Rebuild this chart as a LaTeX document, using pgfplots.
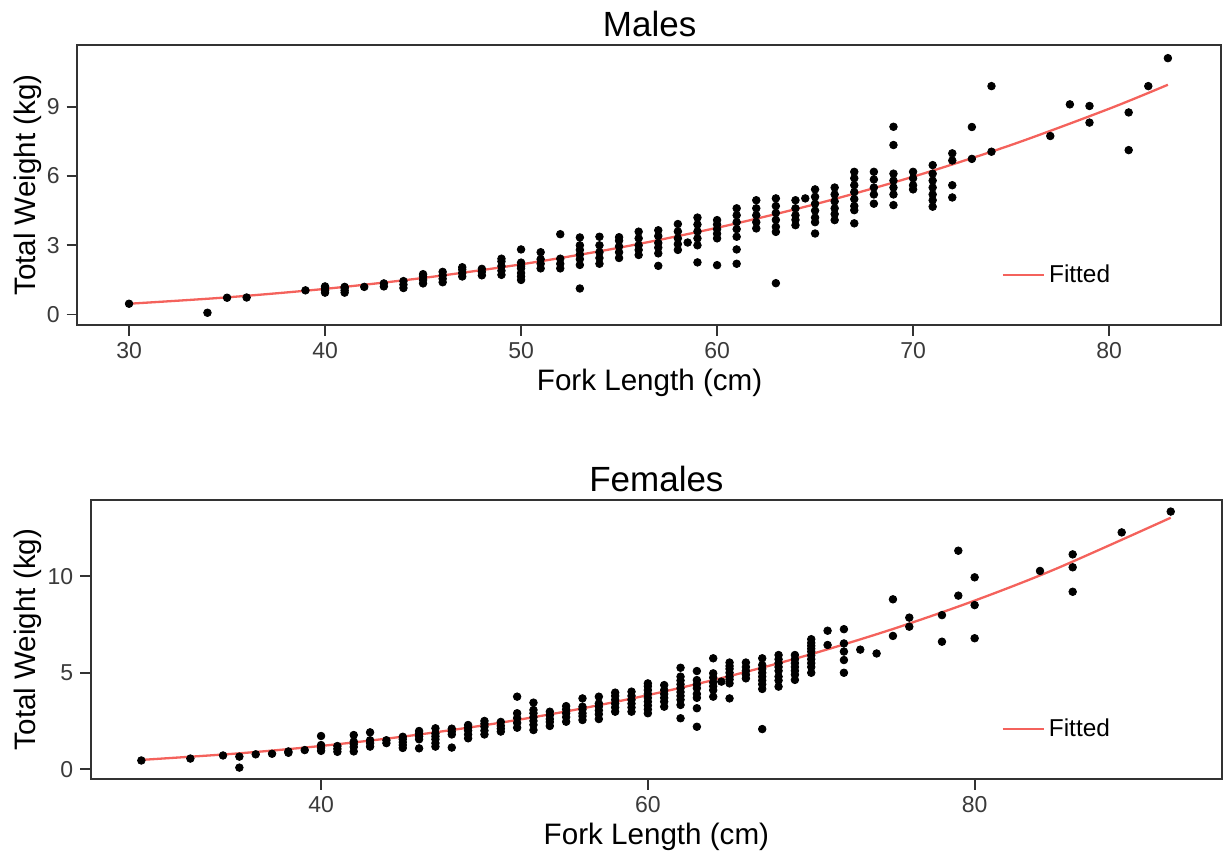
\documentclass[border=0pt]{standalone}
\usepackage{fontspec}
\setmainfont{Liberation Sans}
\usepackage{pgfplots}
\pgfplotsset{compat=1.18}
\definecolor{fitred}{HTML}{F4625C}
\definecolor{axgray}{HTML}{333333}
\definecolor{ticktxt}{HTML}{3A3A3A}
\pgfplotsset{
  panel/.style={
    scale only axis,
    anchor=south west,
    axis line style={axgray, line width=0.9bp},
    tick align=outside,
    major tick length=5.35bp,
    tick style={axgray, line width=0.9bp},
    xtick pos=bottom, ytick pos=left,
    minor tick num=0,
    /pgf/number format/assume math mode=true,
    ticklabel style={font=\fontsize{11.5bp}{13bp}\selectfont, text=ticktxt},
    legend style={draw=none, fill=none, inner sep=0pt, anchor=west,
      font=\fontsize{12.2bp}{14bp}\selectfont},
    legend cell align=left,
    legend image code/.code={\path (0bp,0bp) -- (20.5bp,0bp);\draw[#1] (0bp,0bp) -- (17bp,0bp);},
    clip=false,
  },
}
\begin{document}
\begin{tikzpicture}
\useasboundingbox (0bp,0bp) rectangle (612bp,428.5bp);
% ---------------- Males ----------------
\begin{axis}[panel, at={(38.65bp,266bp)}, width=571.85bp, height=140bp,
  xmin=27.36, xmax=85.71, ymin=-0.45, ymax=11.67,
  xtick={30,40,50,60,70,80}, ytick={0,3,6,9},
  legend style={at={(axis description cs:0.808,0.179)}}]
\addplot[only marks, mark=*, mark size=1.9bp, black, forget plot] table {
x y
30 0.47
34 0.08
35 0.73
36 0.74
39 1.05
40 0.95
40 1.05
40 1.15
40 1.22
41 0.95
41 1.05
41 1.15
41 1.2
42 1.2
43 1.22
43 1.35
44 1.15
44 1.3
44 1.45
45 1.35
45 1.5
45 1.65
45 1.75
46 1.4
46 1.55
46 1.7
46 1.85
47 1.65
47 1.8
47 1.95
47 2.05
48 1.7
48 1.85
48 1.98
49 1.72
49 1.9
49 2.1
49 2.3
49 2.42
50 1.5
50 1.65
50 1.8
50 2.0
50 2.1
50 2.25
50 2.82
51 2.0
51 2.2
51 2.4
51 2.7
52 2.0
52 2.2
52 2.42
52 3.48
53 1.13
53 2.15
53 2.4
53 2.6
53 2.8
53 3.0
53 3.34
54 2.2
54 2.45
54 2.7
54 3.0
54 3.37
55 2.45
55 2.7
55 2.95
55 3.2
55 3.35
56 2.58
56 2.8
56 3.0
56 3.3
56 3.59
57 2.11
57 2.65
57 2.9
57 3.1
57 3.4
57 3.65
58 2.8
58 3.05
58 3.3
58 3.6
58 3.92
58.5 3.12
59 2.26
59 3.0
59 3.3
59 3.6
59 3.9
59 4.2
60 2.14
60 3.3
60 3.5
60 3.7
60 3.9
60 4.09
61 2.2
61 2.82
61 3.37
61 3.7
61 4.0
61 4.3
61 4.6
62 3.73
62 4.0
62 4.3
62 4.6
62 4.95
63 1.36
63 3.58
63 3.8
63 4.1
63 4.4
63 4.7
63 5.03
64 3.87
64 4.1
64 4.3
64 4.6
64 4.95
64.5 5.03
65 3.51
65 4.0
65 4.2
65 4.5
65 4.8
65 5.1
65 5.42
66 4.09
66 4.35
66 4.6
66 4.9
66 5.2
66 5.5
67 3.95
67 4.52
67 4.7
67 5.0
67 5.3
67 5.6
67 5.9
67 6.18
68 4.8
68 5.2
68 5.5
68 5.85
68 6.18
69 4.74
69 5.2
69 5.5
69 5.8
69 6.1
69 7.34
69 8.13
70 5.42
70 5.6
70 5.9
70 6.18
71 4.67
71 4.95
71 5.2
71 5.5
71 5.8
71 6.1
71 6.47
72 5.07
72 5.6
72 6.67
72 6.98
73 6.74
73 8.12
74 7.05
74 9.89
77 7.73
78 9.1
79 8.31
79 9.03
81 7.12
81 8.75
82 9.89
83 11.1
};
\addplot[fitred, line width=1.15bp, no marks, smooth] coordinates {
(30,0.470) (35,0.746) (40,1.114) (45,1.586) (50,2.175) (55,2.895)
(60,3.758) (65,4.778) (70,5.968) (75,7.341) (80,8.909) (83,9.949)
};
\addlegendentry{Fitted}
\end{axis}
% ---------------- Females ----------------
\begin{axis}[panel, at={(45.5bp,39bp)}, width=565.35bp, height=139.5bp,
  xmin=25.92, xmax=95.12, ymin=-0.51, ymax=13.96,
  xtick={40,60,80}, ytick={0,5,10},
  legend style={at={(axis description cs:0.805,0.178)}}]
\addplot[only marks, mark=*, mark size=1.9bp, black, forget plot] table {
x y
29 0.45
32 0.55
34 0.71
35 0.08
35 0.65
36 0.77
37 0.8
38 0.85
38 0.92
39 0.99
40 0.95
40 1.1
40 1.25
40 1.72
41 0.9
41 1.05
41 1.2
42 0.92
42 1.15
42 1.3
42 1.43
42 1.77
43 1.17
43 1.35
43 1.5
43 1.91
44 1.35
44 1.5
45 1.1
45 1.25
45 1.4
45 1.55
45 1.68
46 1.08
46 1.55
46 1.7
46 1.85
46 1.98
47 1.17
47 1.35
47 1.55
47 1.7
47 1.85
47 2.12
48 1.12
48 1.8
48 1.95
48 2.1
49 1.6
49 1.8
49 2.0
49 2.15
49 2.29
50 1.8
50 2.0
50 2.2
50 2.35
50 2.5
51 1.95
51 2.1
51 2.25
51 2.45
52 2.15
52 2.4
52 2.65
52 2.9
52 3.76
53 2.03
53 2.3
53 2.5
53 2.7
53 2.9
53 3.07
53 3.45
54 2.24
54 2.45
54 2.6
54 2.8
54 2.98
55 2.46
55 2.7
55 2.9
55 3.1
55 3.27
56 2.55
56 2.75
56 2.9
56 3.1
56 3.24
56 3.67
57 2.6
57 2.85
57 3.05
57 3.25
57 3.41
57 3.76
58 2.98
58 3.2
58 3.4
58 3.6
58 3.8
58 3.97
59 2.98
59 3.2
59 3.4
59 3.6
59 3.8
59 4.02
60 2.9
60 3.1
60 3.3
60 3.5
60 3.7
60 3.9
60 4.1
60 4.3
60 4.45
61 3.24
61 3.5
61 3.7
61 3.9
61 4.1
61 4.36
62 2.64
62 3.33
62 3.6
62 3.8
62 4.0
62 4.2
62 4.4
62 4.6
62 4.8
62 5.26
63 2.2
63 3.16
63 3.7
63 3.9
63 4.2
63 4.4
63 4.62
63 5.09
64 3.76
64 4.1
64 4.3
64 4.5
64 4.75
64 4.97
64 5.75
64.5 4.54
65 3.67
65 4.45
65 4.65
65 4.8
65 5.0
65 5.2
65 5.35
65 5.53
66 4.71
66 4.9
66 5.1
66 5.3
66 5.53
67 2.08
67 4.16
67 4.4
67 4.6
67 4.8
67 5.0
67 5.2
67 5.4
67 5.75
68 4.28
68 4.6
68 4.8
68 5.1
68 5.3
68 5.5
68 5.7
68 5.92
69 4.63
69 4.9
69 5.1
69 5.3
69 5.5
69 5.7
69 5.92
70 5.0
70 5.3
70 5.5
70 5.7
70 5.9
70 6.1
70 6.25
70 6.4
70 6.55
70 6.74
71 6.44
71 7.18
72 5.0
72 5.66
72 6.1
72 6.52
72 7.26
73 6.2
74 6.0
75 6.91
75 8.81
76 7.39
76 7.86
78 6.61
78 7.99
79 9.0
79 11.33
80 6.79
80 8.51
80 9.95
84 10.28
86 9.2
86 10.47
86 11.14
89 12.28
92 13.36
};
\addplot[fitred, line width=1.15bp, no marks, smooth] coordinates {
(29,0.48) (35,0.822) (40,1.204) (45,1.687) (50,2.279) (55,2.994)
(60,3.840) (65,4.828) (70,5.966) (75,7.270) (80,8.742) (85,10.40) (92,13.04)
};
\addlegendentry{Fitted}
\end{axis}
% ---------------- titles and axis labels ----------------
\node[anchor=base, font=\fontsize{17.5bp}{20bp}\selectfont] at (324.8bp,410.2bp) {Males};
\node[anchor=base, font=\fontsize{14.8bp}{17bp}\selectfont] at (324.8bp,233bp) {Fork Length (cm)};
\node[rotate=90, anchor=base, font=\fontsize{14.8bp}{17bp}\selectfont] at (17.5bp,336bp) {Total Weight (kg)};
\node[anchor=base, font=\fontsize{17.5bp}{20bp}\selectfont] at (328.2bp,182.5bp) {Females};
\node[anchor=base, font=\fontsize{14.8bp}{17bp}\selectfont] at (328.2bp,6.5bp) {Fork Length (cm)};
\node[rotate=90, anchor=base, font=\fontsize{14.8bp}{17bp}\selectfont] at (17.5bp,108.75bp) {Total Weight (kg)};
\end{tikzpicture}
\end{document}
